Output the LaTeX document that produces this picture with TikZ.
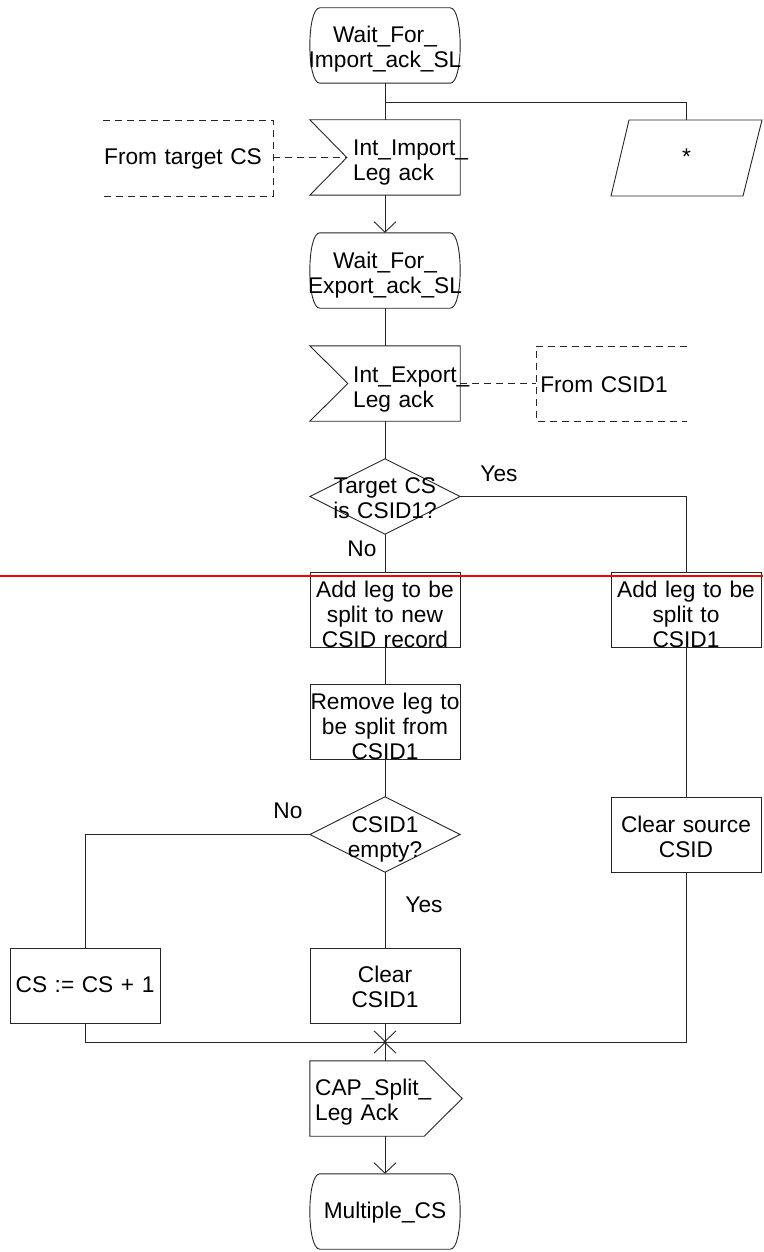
\documentclass[tikz,border=0pt]{standalone}
\usepackage{fontspec}
\setmainfont{Liberation Sans}
\usetikzlibrary{arrows.meta,calc}
\newcommand\sdlstate[1]{%
  \draw[ln] ($(#1.north west)+(10,0)$) -- ($(#1.north east)+(-10,0)$)
    .. controls ($(#1.north east)+(3.3,0)$) and ($(#1.south east)+(3.3,0)$) .. ($(#1.south east)+(-10,0)$)
    -- ($(#1.south west)+(10,0)$)
    .. controls ($(#1.south west)+(-3.3,0)$) and ($(#1.north west)+(-3.3,0)$) .. cycle;}
\begin{document}
\begin{tikzpicture}[x=1pt,y=-1pt,
  ln/.style={draw=black!85, line width=0.9pt},
  frame/.style={rectangle, inner sep=0pt, minimum width=150pt, minimum height=75pt},
  statebox/.style={frame},
  taskbox/.style={frame, draw=black!85, line width=0.9pt},
  txt/.style={inner sep=0pt, align=center, text width=170pt, anchor=base, font=\fontsize{22.7pt}{25pt}\selectfont},
  ltxt/.style={inner sep=0pt, align=left, text width=140pt, anchor=base west, font=\fontsize{22.7pt}{25pt}\selectfont},
  flow/.style={draw=black!85, line width=0.9pt},
  arr/.style={-{Straight Barb[length=10.5pt,width=22pt]}},
  rarr/.style={{Straight Barb[length=10.5pt,width=22pt]}-},
  cmt/.style={draw=black!85, line width=0.9pt, dash pattern=on 7pt off 5pt},
]
\useasboundingbox (0,0) rectangle (763,1252);

% --- states and symbols ---
\node[statebox] (s1) at (385,45.5) {};
\sdlstate{s1}
\node[txt] (s1t) at (385,43) {Wait\_For\_\\Import\_ack\_SL};

\node[frame] (i1) at (385,157.5) {};
\coordinate (i1n) at ($(i1.west)+(37,0)$);
\draw[ln] (i1.north west) -- (i1.north east) -- (i1.south east) -- (i1.south west) -- (i1n) -- cycle;
\node[ltxt] (i1t) at (353,156) {Int\_Import\_\\Leg ack};

\node[frame, minimum width=151pt, minimum height=76pt] (par) at (686.5,158) {};
\draw[ln] (629,120) -- (762,120) -- (743,196) -- (611,196) -- cycle;
\node[txt] (part) at (686.5,165) {*};

\draw[cmt] (103,120) -- (273,120) -- (273,196) -- (103,196);
\coordinate (c1e) at (273,157.5);
\node[txt] (c1) at (183,165) {From target CS};

\node[statebox] (s2) at (385,270.5) {};
\sdlstate{s2}
\node[txt] (s2t) at (385,268) {Wait\_For\_\\Export\_ack\_SL};

\node[frame] (i2) at (385,383.5) {};
\coordinate (i2n) at ($(i2.west)+(38,0)$);
\draw[ln] (i2.north west) -- (i2.north east) -- (i2.south east) -- (i2.south west) -- (i2n) -- cycle;
\node[ltxt] (i2t) at (353,382) {Int\_Export\_\\Leg ack};

\draw[cmt] (687,346) -- (536,346) -- (536,421) -- (687,421);
\coordinate (c2w) at (536,383.5);
\node[txt] (c2) at (604,392) {From CSID1};

\node[frame] (d1) at (385,496.5) {};
\draw[ln] (d1.north) -- (d1.east) -- (d1.south) -- (d1.west) -- cycle;
\node[txt] (d1t) at (385,493) {Target CS\\is CSID1?};
\node[txt] (yes1) at (499,481) {Yes};
\node[txt] (no1) at (362,556) {No};

\node[taskbox] (a1) at (385,609.5) {};
\node[txt] (a1t) at (385,597) {Add leg to be\\split to new\\CSID record};

\node[taskbox] (r1) at (686,609.5) {};
\node[txt] (r1t) at (686,597) {Add leg to be\\split to\\CSID1};

\node[taskbox] (b1) at (385,721.5) {};
\node[txt] (b1t) at (385,709) {Remove leg to\\be split from\\CSID1};

\node[frame] (d2) at (385,834.5) {};
\draw[ln] (d2.north) -- (d2.east) -- (d2.south) -- (d2.west) -- cycle;
\node[txt] (d2t) at (385,832) {CSID1\\empty?};
\node[txt] (no2) at (288,818) {No};
\node[txt] (yes2) at (424,912) {Yes};

\node[taskbox] (rs) at (686,834.5) {};
\node[txt] (rst) at (686,832) {Clear source\\CSID};

\node[taskbox] (cs) at (85,985.5) {};
\node[txt] (cst) at (85,992) {CS := CS + 1};

\node[taskbox] (cl) at (385,985.5) {};
\node[txt] (clt) at (385,982) {Clear\\CSID1};

\coordinate (j) at (385,1042);

\node[frame] (out) at (385,1098.5) {};
\draw[ln] (out.north west) -- ($(out.north east)+(-36,0)$) -- ($(out.east)+(2,0)$) -- ($(out.south east)+(-36,0)$) -- (out.south west) -- cycle;
\node[ltxt] (outt) at (315,1095) {CAP\_Split\_\\Leg Ack};

\node[statebox] (m) at (385,1211.5) {};
\sdlstate{m}
\node[txt] (mt) at (385,1218) {Multiple\_CS};

% --- connectors ---
\coordinate (b0) at (385,102);
\draw[flow] (s1.south) -- (i1.north);
\draw[flow] (b0) -| (par.north);
\draw[cmt] (c1e) -- (i1n);
\draw[flow, arr] (i1.south) -- (s2.north);
\draw[flow] (s2.south) -- (i2.north);
\draw[cmt] (i2.east) -- (c2w);
\draw[flow] (i2.south) -- (d1.north);
\draw[flow] (d1.south) -- (a1.north);
\draw[flow] (d1.east) -| (r1.north);
\draw[flow] (a1.south) -- (b1.north);
\draw[flow] (b1.south) -- (d2.north);
\draw[flow] (d2.west) -| (cs.north);
\draw[flow] (d2.south) -- (cl.north);
\draw[flow] (r1.south) -- (rs.north);
\draw[flow] (cs.south) |- (j);
\draw[flow] (rs.south) |- (j);
\draw[flow, arr] (cl.south) -- (j);
\draw[flow, rarr] (j) -- (out.north);
\fill[black!85] (j) circle (1.6pt);
\draw[flow, arr] (out.south) -- (m.north);

% --- red rule ---
\draw[red, line width=2pt] (0,576) -- (763,576);
\end{tikzpicture}
\end{document}
